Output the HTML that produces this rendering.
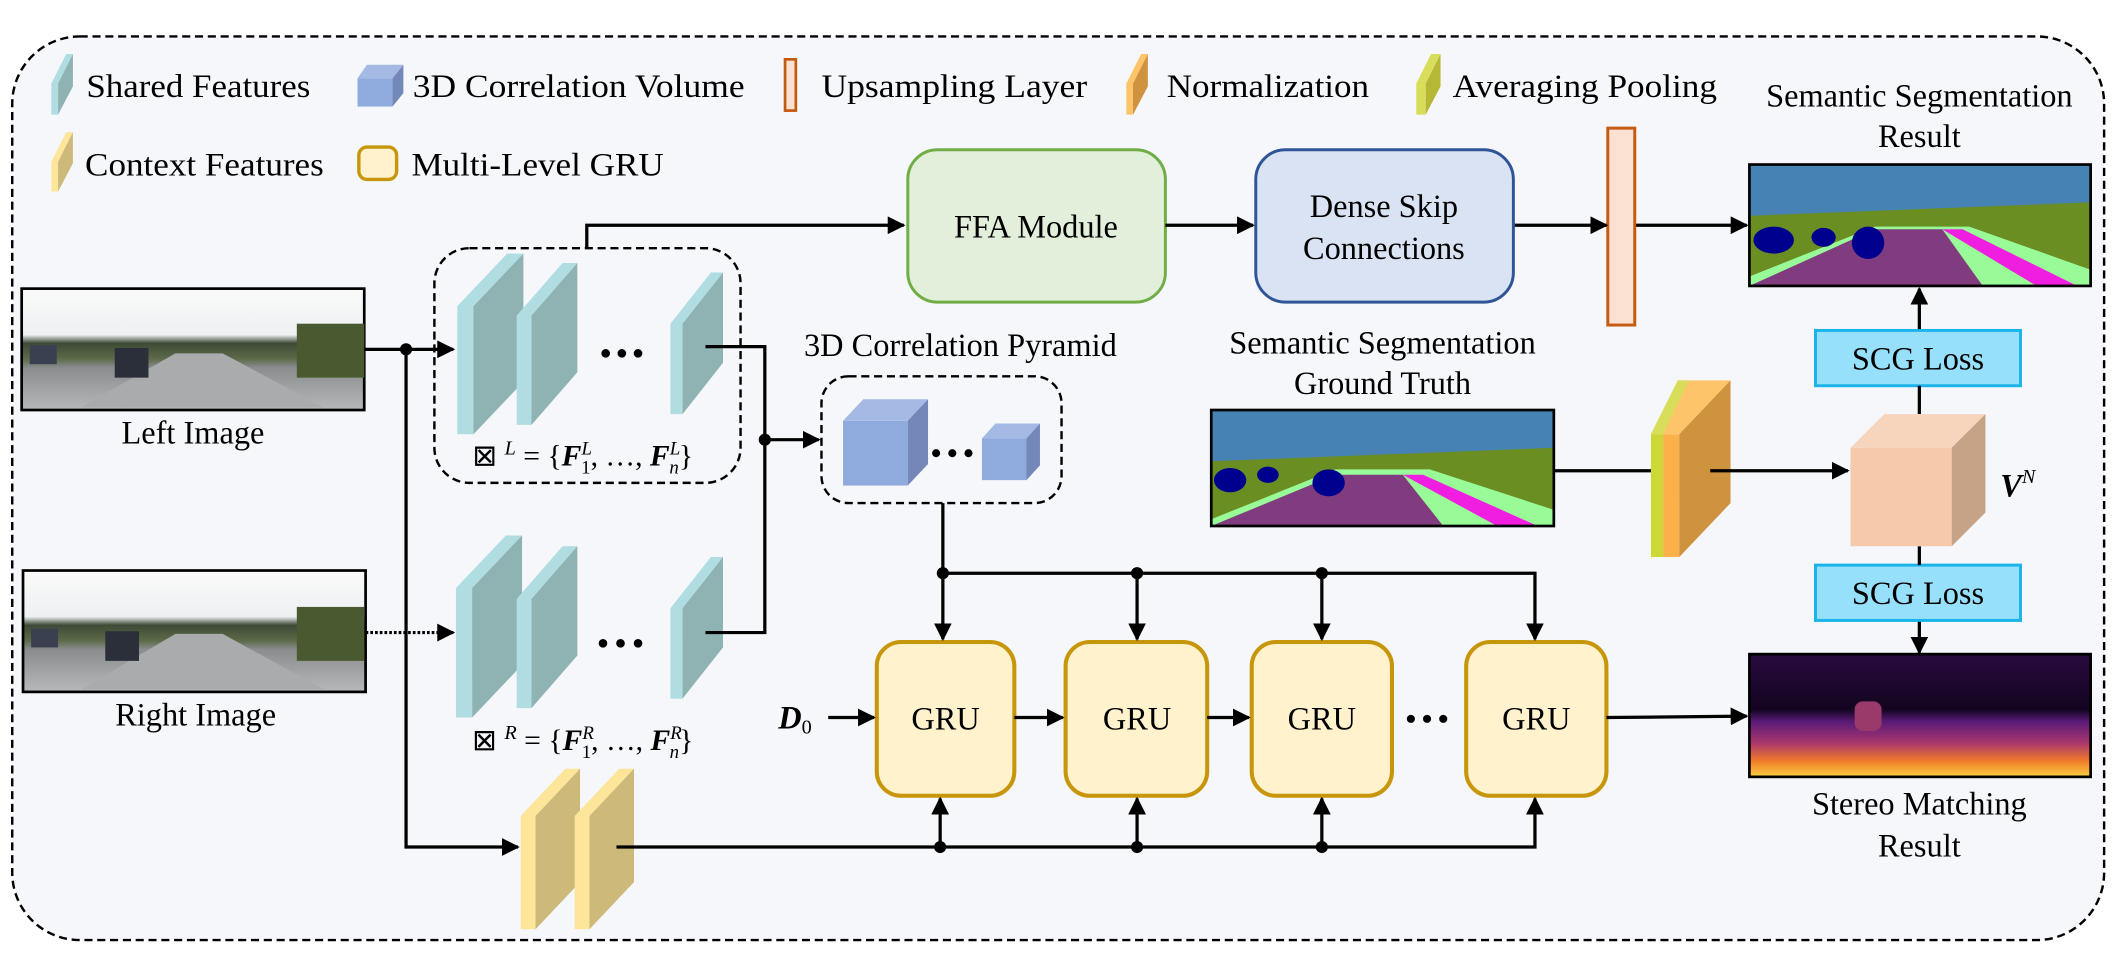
<!DOCTYPE html>
<html><head><meta charset="utf-8"><style>
html,body{margin:0;padding:0;background:#fff;}
svg{display:block;}
</style></head><body>
<svg width="2115" height="963" viewBox="0 0 1568 714" xmlns="http://www.w3.org/2000/svg" font-family="'Liberation Serif', 'Times New Roman', serif">
<defs>
<marker id="a" viewBox="0 0 10 10" refX="9" refY="5" markerWidth="5.5" markerHeight="5.5" orient="auto"><path d="M0,0 L10,5 L0,10 z" fill="#000"/></marker>
<linearGradient id="road" x1="0" y1="0" x2="0" y2="1">
<stop offset="0" stop-color="#fafafa"/><stop offset="0.38" stop-color="#eef0f2"/><stop offset="0.45" stop-color="#3e4a36"/><stop offset="0.58" stop-color="#5d6b4a"/><stop offset="0.65" stop-color="#8a8c8e"/><stop offset="1" stop-color="#b6b8ba"/></linearGradient>
<linearGradient id="depth" x1="0" y1="0" x2="0" y2="1">
<stop offset="0" stop-color="#2a0a40"/><stop offset="0.45" stop-color="#12051f"/><stop offset="0.55" stop-color="#5a1a78"/><stop offset="0.72" stop-color="#a8366e"/><stop offset="0.87" stop-color="#f07a2a"/><stop offset="1" stop-color="#fbd040"/></linearGradient>
</defs>
<rect x="0" y="0" width="1568" height="714" fill="#fff"/>
<rect x="9" y="27" width="1551" height="670" rx="50" fill="#f5f7fb" stroke="#000" stroke-width="1.8" stroke-dasharray="6,3.5"/>

<!-- legend -->
<polygon points="38,62 49,40 54,40 43,62 43,85 38,85" fill="#b0dde2"/><polygon points="43,62 54,40 54,64 43,85" fill="#8fb2b3"/>
<text x="64" y="72" font-size="24" textLength="166" lengthAdjust="spacingAndGlyphs">Shared Features</text>
<rect x="265" y="58" width="26" height="21" fill="#8faadc"/><polygon points="265,58 272,48 299,48 291,58" fill="#a4b9e3"/><polygon points="291,58 299,48 299,69 291,79" fill="#7388b8"/>
<text x="306" y="72" font-size="24" textLength="246" lengthAdjust="spacingAndGlyphs">3D Correlation Volume</text>
<rect x="582" y="44" width="8" height="38" fill="#fae1d2" stroke="#c55a11" stroke-width="2"/>
<text x="609" y="72" font-size="24" textLength="197" lengthAdjust="spacingAndGlyphs">Upsampling Layer</text>
<polygon points="835,62 846,40 851,40 840,62 840,85 835,85" fill="#fdc46a"/><polygon points="840,62 851,40 851,64 840,85" fill="#cf923e"/>
<text x="865" y="72" font-size="24" textLength="150" lengthAdjust="spacingAndGlyphs">Normalization</text>
<polygon points="1050,62 1061,40 1068,40 1057,62 1057,85 1050,85" fill="#d8de5a"/><polygon points="1057,62 1068,40 1068,64 1057,85" fill="#b5b834"/>
<text x="1077" y="72" font-size="24" textLength="196" lengthAdjust="spacingAndGlyphs">Averaging Pooling</text>
<polygon points="38,120 49,98 54,98 43,120 43,142 38,142" fill="#fde59a"/><polygon points="43,120 54,98 54,121 43,142" fill="#cdb97a"/>
<text x="63" y="130" font-size="24" textLength="177" lengthAdjust="spacingAndGlyphs">Context Features</text>
<rect x="266" y="109" width="28" height="24" rx="6" fill="#fff2cc" stroke="#c8960a" stroke-width="2.5"/>
<text x="305" y="130" font-size="24" textLength="187" lengthAdjust="spacingAndGlyphs">Multi-Level GRU</text>

<!-- left image -->
<rect x="16" y="214" width="254" height="90" fill="url(#road)" stroke="#000" stroke-width="2"/>
<polygon points="130,262 165,262 240,302 60,302" fill="#a9abad"/>
<rect x="85" y="258" width="25" height="22" fill="#2b2f3a"/><rect x="22" y="256" width="20" height="14" fill="#3a4050"/>
<rect x="220" y="240" width="50" height="40" fill="#4a5a30"/>
<text x="143" y="329" font-size="24" text-anchor="middle">Left Image</text>
<!-- right image -->
<rect x="17" y="423" width="254" height="90" fill="url(#road)" stroke="#000" stroke-width="2"/>
<polygon points="130,470 165,470 240,511 60,511" fill="#a9abad"/>
<rect x="78" y="468" width="25" height="22" fill="#2b2f3a"/><rect x="23" y="466" width="20" height="14" fill="#3a4050"/>
<rect x="220" y="450" width="50" height="40" fill="#4a5a30"/>
<text x="145" y="538" font-size="24" text-anchor="middle">Right Image</text>

<!-- L feature box -->
<rect x="322" y="184" width="227" height="174" rx="26" fill="none" stroke="#000" stroke-width="1.8" stroke-dasharray="6,3.5"/>
<polygon points="339,227 376,188 388,188 351,227 351,322 339,322" fill="#b0dde2"/><polygon points="351,227 388,188 388,283 351,322" fill="#8fb2b3"/>
<polygon points="383,234 417,195 428,195 394,234 394,315 383,315" fill="#b0dde2"/><polygon points="394,234 428,195 428,276 394,315" fill="#8fb2b3"/>
<polygon points="497,240 527,202 536,202 506,240 506,307 497,307" fill="#b0dde2"/><polygon points="506,240 536,202 536,269 506,307" fill="#8fb2b3"/>
<circle cx="449" cy="262" r="3.2"/><circle cx="461" cy="262" r="3.2"/><circle cx="473" cy="262" r="3.2"/>
<text x="432" y="345" font-size="22" text-anchor="middle">⊠ <tspan font-style="italic" dy="-8" font-size="15">L</tspan><tspan dy="8"> = {</tspan><tspan font-weight="bold" font-style="italic">F</tspan><tspan dy="-8" font-size="14" font-style="italic">L</tspan><tspan dx="-8" dy="14" font-size="14">1</tspan><tspan dy="-6">, …, </tspan><tspan font-weight="bold" font-style="italic">F</tspan><tspan dy="-8" font-size="14" font-style="italic">L</tspan><tspan dx="-8" dy="14" font-size="14" font-style="italic">n</tspan><tspan dy="-6">}</tspan></text>

<!-- R features -->
<polygon points="338,436 375,397 387,397 350,436 350,532 338,532" fill="#b0dde2"/><polygon points="350,436 387,397 387,493 350,532" fill="#8fb2b3"/>
<polygon points="383,444 417,405 428,405 394,444 394,525 383,525" fill="#b0dde2"/><polygon points="394,444 428,405 428,486 394,525" fill="#8fb2b3"/>
<polygon points="497,451 527,413 536,413 506,451 506,518 497,518" fill="#b0dde2"/><polygon points="506,451 536,413 536,480 506,518" fill="#8fb2b3"/>
<circle cx="447" cy="477" r="3.2"/><circle cx="460" cy="477" r="3.2"/><circle cx="473" cy="477" r="3.2"/>
<text x="432" y="556" font-size="22" text-anchor="middle">⊠ <tspan font-style="italic" dy="-8" font-size="15">R</tspan><tspan dy="8"> = {</tspan><tspan font-weight="bold" font-style="italic">F</tspan><tspan dy="-8" font-size="14" font-style="italic">R</tspan><tspan dx="-9" dy="14" font-size="14">1</tspan><tspan dy="-6">, …, </tspan><tspan font-weight="bold" font-style="italic">F</tspan><tspan dy="-8" font-size="14" font-style="italic">R</tspan><tspan dx="-9" dy="14" font-size="14" font-style="italic">n</tspan><tspan dy="-6">}</tspan></text>

<!-- context features -->
<polygon points="386,605 419,570 430,570 397,605 397,689 386,689" fill="#fde59a"/><polygon points="397,605 430,570 430,654 397,689" fill="#cdb97a"/>
<polygon points="426,605 459,570 470,570 437,605 437,689 426,689" fill="#fde59a"/><polygon points="437,605 470,570 470,654 437,689" fill="#cdb97a"/>

<!-- connectors left -->
<g stroke="#000" stroke-width="2.4" fill="none">
<line x1="270" y1="259" x2="336" y2="259" marker-end="url(#a)"/>
<line x1="271" y1="469" x2="336" y2="469" stroke-dasharray="2,1.5" marker-end="url(#a)"/>
<polyline points="301,259 301,628 384,628" marker-end="url(#a)"/>
<polyline points="435,184 435,167 670,167" marker-end="url(#a)"/>
<polyline points="523,257 567,257 567,469 523,469"/>
<line x1="567" y1="326" x2="607" y2="326" marker-end="url(#a)"/>
</g>
<circle cx="301" cy="259" r="4.5"/><circle cx="567" cy="326" r="4.5"/>

<!-- pyramid -->
<text x="712" y="264" font-size="24" text-anchor="middle">3D Correlation Pyramid</text>
<rect x="609" y="279" width="178" height="94" rx="20" fill="none" stroke="#000" stroke-width="1.8" stroke-dasharray="6,3.5"/>
<rect x="625" y="312" width="48" height="48" fill="#8faadc"/><polygon points="625,312 640,296 688,296 673,312" fill="#a4b9e3"/><polygon points="673,312 688,296 688,344 673,360" fill="#7388b8"/>
<rect x="728" y="325" width="33" height="31" fill="#8faadc"/><polygon points="728,325 738,314 771,314 761,325" fill="#a4b9e3"/><polygon points="761,325 771,314 771,345 761,356" fill="#7388b8"/>
<circle cx="694" cy="336" r="3"/><circle cx="706" cy="336" r="3"/><circle cx="718" cy="336" r="3"/>

<!-- FFA / dense / upsampling -->
<rect x="673" y="111" width="191" height="113" rx="22" fill="#e2efda" stroke="#70ad47" stroke-width="2.2"/>
<text x="768" y="176" font-size="24" text-anchor="middle">FFA Module</text>
<rect x="931" y="111" width="191" height="113" rx="22" fill="#dae3f3" stroke="#2f5597" stroke-width="2.2"/>
<text x="1026" y="161" font-size="24" text-anchor="middle">Dense Skip</text>
<text x="1026" y="192" font-size="24" text-anchor="middle">Connections</text>
<rect x="1192" y="95" width="20" height="146" fill="#fae1d2" stroke="#c55a11" stroke-width="2.2"/>
<g stroke="#000" stroke-width="2.4" fill="none">
<line x1="864" y1="167" x2="929" y2="167" marker-end="url(#a)"/>
<line x1="1123" y1="167" x2="1191" y2="167" marker-end="url(#a)"/>
<line x1="1213" y1="167" x2="1295" y2="167" marker-end="url(#a)"/>
</g>

<!-- seg result -->
<text x="1423" y="79" font-size="24" text-anchor="middle">Semantic Segmentation</text>
<text x="1423" y="109" font-size="24" text-anchor="middle">Result</text>
<rect x="1297" y="122" width="253" height="90" fill="#4682b4"/>
<polygon points="1297,160 1550,150 1550,212 1297,212" fill="#6b8e23"/>
<polygon points="1297,205 1390,168 1460,168 1550,200 1550,212 1297,212" fill="#98fb98"/>
<polygon points="1297,212 1390,170 1440,170 1470,212" fill="#803c7f"/>
<polygon points="1440,170 1455,170 1540,212 1510,212" fill="#f01ee0"/>
<ellipse cx="1315" cy="178" rx="15" ry="10" fill="#00008e"/><ellipse cx="1352" cy="176" rx="9" ry="7" fill="#00008e"/><ellipse cx="1385" cy="180" rx="12" ry="12" fill="#00008e"/>
<rect x="1297" y="122" width="253" height="90" fill="none" stroke="#000" stroke-width="2"/>
<rect x="1346" y="245" width="152" height="41" fill="#97e0fb" stroke="#1ab4ea" stroke-width="2.2"/>
<text x="1422" y="274" font-size="24" text-anchor="middle">SCG Loss</text>
<rect x="1346" y="419" width="152" height="41" fill="#97e0fb" stroke="#1ab4ea" stroke-width="2.2"/>
<text x="1422" y="448" font-size="24" text-anchor="middle">SCG Loss</text>
<g stroke="#000" stroke-width="2.4" fill="none">
<line x1="1423" y1="244" x2="1423" y2="214" marker-end="url(#a)"/>
<line x1="1423" y1="307" x2="1423" y2="286"/>
<line x1="1423" y1="405" x2="1423" y2="419"/>
<line x1="1423" y1="461" x2="1423" y2="484" marker-end="url(#a)"/>
</g>
<rect x="1372" y="332" width="75" height="73" fill="#f5c9a9"/><polygon points="1372,332 1397,307 1472,307 1447,332" fill="#f7d4bc"/><polygon points="1447,332 1472,307 1472,380 1447,405" fill="#c6a287"/>
<text x="1483" y="368" font-size="24" font-weight="bold" font-style="italic">V<tspan font-size="15" dy="-10" font-weight="normal">N</tspan></text>

<!-- GT seg -->
<text x="1025" y="262" font-size="24" text-anchor="middle">Semantic Segmentation</text>
<text x="1025" y="292" font-size="24" text-anchor="middle">Ground Truth</text>
<rect x="898" y="304" width="254" height="86" fill="#4682b4"/>
<polygon points="898,342 1152,332 1152,390 898,390" fill="#6b8e23"/>
<polygon points="898,385 990,348 1060,348 1152,378 1152,390 898,390" fill="#98fb98"/>
<polygon points="898,390 990,352 1040,352 1070,390" fill="#803c7f"/>
<polygon points="1040,352 1055,352 1140,390 1110,390" fill="#f01ee0"/>
<ellipse cx="912" cy="356" rx="12" ry="9" fill="#00008e"/><ellipse cx="940" cy="352" rx="8" ry="6" fill="#00008e"/><ellipse cx="985" cy="358" rx="12" ry="10" fill="#00008e"/>
<rect x="898" y="304" width="254" height="86" fill="none" stroke="#000" stroke-width="2"/>
<polygon points="1224,322 1244,282 1283,282 1245,322" fill="#fdc46a"/>
<polygon points="1224,322 1244,282 1252,282 1233,322" fill="#d8de5a"/>
<rect x="1224" y="322" width="9" height="91" fill="#ccd835"/>
<rect x="1233" y="322" width="12" height="91" fill="#fbb04a"/>
<polygon points="1245,322 1283,282 1283,373 1245,413" fill="#cf923e"/>
<g stroke="#000" stroke-width="2.4" fill="none">
<line x1="1152" y1="349" x2="1224" y2="349"/>
<line x1="1268" y1="349" x2="1370" y2="349" marker-end="url(#a)"/>
</g>

<!-- stereo -->
<rect x="1297" y="485" width="253" height="91" fill="url(#depth)"/>
<rect x="1375" y="520" width="20" height="22" rx="6" fill="#9a3a6a"/>
<rect x="1297" y="485" width="253" height="91" fill="none" stroke="#000" stroke-width="2"/>
<text x="1423" y="604" font-size="24" text-anchor="middle">Stereo Matching</text>
<text x="1423" y="635" font-size="24" text-anchor="middle">Result</text>

<!-- GRUs -->
<g fill="#fff2cc" stroke="#c8960a" stroke-width="3">
<rect x="650" y="476" width="102" height="114" rx="18"/>
<rect x="790" y="476" width="105" height="114" rx="18"/>
<rect x="928" y="476" width="104" height="114" rx="18"/>
<rect x="1087" y="476" width="104" height="114" rx="18"/>
</g>
<g font-size="24" text-anchor="middle">
<text x="701" y="541">GRU</text><text x="843" y="541">GRU</text><text x="980" y="541">GRU</text><text x="1139" y="541">GRU</text>
</g>
<circle cx="1046" cy="533" r="3"/><circle cx="1058" cy="533" r="3"/><circle cx="1070" cy="533" r="3"/>
<text x="577" y="540" font-size="24" font-weight="bold" font-style="italic">D<tspan font-size="15" font-weight="normal" font-style="normal" dy="4">0</tspan></text>
<g stroke="#000" stroke-width="2.4" fill="none">
<line x1="614" y1="532" x2="648" y2="532" marker-end="url(#a)"/>
<line x1="752" y1="532" x2="788" y2="532" marker-end="url(#a)"/>
<line x1="895" y1="532" x2="926" y2="532" marker-end="url(#a)"/>
<line x1="1191" y1="532" x2="1295" y2="531" marker-end="url(#a)"/>
<polyline points="699,373 699,474" marker-end="url(#a)"/>
<polyline points="699,425 1138,425 1138,474" marker-end="url(#a)"/>
<line x1="843" y1="425" x2="843" y2="474" marker-end="url(#a)"/>
<line x1="980" y1="425" x2="980" y2="474" marker-end="url(#a)"/>
<polyline points="457,628 1138,628 1138,592" marker-end="url(#a)"/>
<line x1="697" y1="628" x2="697" y2="592" marker-end="url(#a)"/>
<line x1="843" y1="628" x2="843" y2="592" marker-end="url(#a)"/>
<line x1="980" y1="628" x2="980" y2="592" marker-end="url(#a)"/>
</g>
<circle cx="699" cy="425" r="4.5"/><circle cx="843" cy="425" r="4.5"/><circle cx="980" cy="425" r="4.5"/>
<circle cx="697" cy="628" r="4.5"/><circle cx="843" cy="628" r="4.5"/><circle cx="980" cy="628" r="4.5"/>
</svg>
</body></html>
